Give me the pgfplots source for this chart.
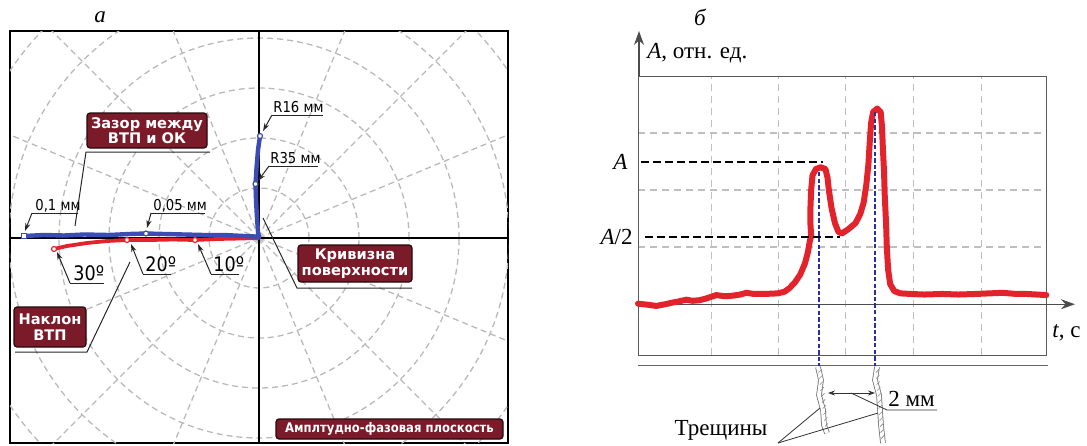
\documentclass[border=0pt]{standalone}
\usepackage{pgfplots}
\pgfplotsset{compat=1.18}
\usepackage{fontspec}
\setmainfont{Liberation Serif}
\newfontfamily\dv{DejaVu Sans}
\newfontfamily\dvc[FakeStretch=0.88]{DejaVu Sans}
\usetikzlibrary{arrows.meta}
\definecolor{maroon}{HTML}{7B1B29}
\definecolor{cred}{HTML}{E3232B}
\definecolor{cblue}{HTML}{3B4CB4}
\definecolor{navy}{HTML}{2A2E9E}
\newcommand\fs{\fontsize{11.5}{13}\selectfont}
\begin{document}
\begin{tikzpicture}
\useasboundingbox (0,0) rectangle (543.5pt,-222.5pt);
\tikzset{gridd/.style={gray!55, line width=0.65pt, dash pattern=on 3pt off 2pt},
  box/.style={fill=maroon, draw=black!70!maroon, line width=0.6pt, rounded corners=1.5pt, text=white, font=\dv\bfseries\fontsize{7.3}{7.7}\selectfont, align=center, inner sep=1pt},
  lbl/.style={font=\dvc\fontsize{7.5}{8}\selectfont, inner sep=0pt, anchor=base west},
  dlbl/.style={font=\dvc\fontsize{10}{11}\selectfont, inner sep=0pt, anchor=base west},
  ldr/.style={black!85, line width=0.5pt},
  arr/.style={black!85, line width=0.5pt, -{Stealth[length=4pt,width=2.6pt]}}}
% ---------------- left panel ----------------
\begin{axis}[at={(5pt,-221.5pt)}, anchor=south west, x=0.5pt, y=0.5pt,
  xmin=-249, xmax=249, ymin=-205, ymax=207, xtick=\empty, ytick=\empty,
  axis line style={black, line width=1pt}]
\pgfplotsinvokeforeach{50,100,150,200,250,300}{\draw[gridd] (axis cs:0,0) circle[radius=#1];}
\pgfplotsinvokeforeach{22.5,45,67.5,112.5,135,157.5,202.5,225,247.5,292.5,315,337.5}{\draw[gridd] (axis cs:0,0) -- (axis cs:{400*cos(#1)},{400*sin(#1)});}
\draw[black, line width=0.8pt] (axis cs:-249,0) -- (axis cs:249,0);
\draw[black, line width=0.8pt] (axis cs:0,-205) -- (axis cs:0,207);
\addplot[cred, line width=1.9pt, line join=round, line cap=round] coordinates {(-205,-11) (-192,-8) (-172,-5) (-152,-3) (-132,-2) (-109,-2) (-86,-1.5) (-64,-2) (-42,-1) (-19,-0.5) (0,0)};
\addplot[cblue, line width=2.2pt, line join=round, line cap=round] coordinates {(-235,2) (-215,3) (-195,2.5) (-175,3.5) (-150,3) (-130,4) (-113,4.5) (-95,4) (-75,3.5) (-55,3) (-35,3) (-15,2) (-4,1.5) (0,1) (-1,6) (-2,20) (-3,38) (-3.5,54) (-2.5,70) (-1,88) (1,102)};
\addplot[only marks, mark=square*, mark size=1.2pt, mark options={fill=white, draw=cblue, line width=0.6pt}] coordinates {(-235,2)};
\addplot[only marks, mark=*, mark size=1.25pt, mark options={fill=white, draw=cblue, line width=0.6pt}] coordinates {(-113,4.5) (-3.5,54) (1,102)};
\addplot[only marks, mark=*, mark size=1.25pt, mark options={fill=white, draw=cred, line width=0.6pt}] coordinates {(-205,-11) (-132,-2) (-64,-2)};
\end{axis}
% ---------------- right panel ----------------
\begin{axis}[at={(319pt,-177.5pt)}, anchor=south west, width=204.5pt, height=139.5pt, scale only axis,
  xmin=0, xmax=6, ymin=-0.89, ymax=4.0,
  xtick={1.076,2.064,3.042,4.044,5.037}, ytick={1,2,3}, xticklabels={}, yticklabels={},
  tick style={draw=none}, xmajorgrids, ymajorgrids,
  grid style={gray!50, line width=0.8pt, dash pattern=on 3.5pt off 2.5pt},
  axis line style={black!65, line width=0.5pt}, clip=false]
\draw[black!70, line width=0.6pt, -{Stealth[length=7pt,width=5pt]}] (axis cs:0,0) -- (axis cs:6.41,0);
\addplot[cred, line width=3pt, line join=round, line cap=round] coordinates {
(0,0.01) (0.15,-0.01) (0.27,-0.03) (0.4,0.0) (0.51,0.03) (0.6,0.05) (0.71,0.08) (0.8,0.06) (0.9,0.07) (1.0,0.1) (1.15,0.16) (1.27,0.14) (1.39,0.15) (1.5,0.17) (1.59,0.2) (1.7,0.18) (1.85,0.18) (2.05,0.19) (2.15,0.22) (2.22,0.28) (2.3,0.38) (2.38,0.52) (2.45,0.72) (2.49,0.9) (2.52,1.1) (2.54,1.2) (2.53,1.4) (2.53,1.7) (2.54,2.0) (2.56,2.26) (2.61,2.37) (2.68,2.40) (2.75,2.37) (2.78,2.22) (2.8,2.0) (2.84,1.68) (2.89,1.42) (2.94,1.27) (2.99,1.24) (3.08,1.31) (3.19,1.42) (3.26,1.58) (3.31,1.78) (3.35,2.1) (3.38,2.45) (3.4,2.85) (3.42,3.18) (3.45,3.37) (3.51,3.43) (3.56,3.37) (3.58,3.1) (3.59,2.8) (3.61,2.3) (3.62,1.9) (3.64,1.4) (3.65,1.0) (3.67,0.6) (3.7,0.35) (3.76,0.23) (3.85,0.19) (4.0,0.18) (4.2,0.17) (4.47,0.18) (4.7,0.17) (4.96,0.18) (5.15,0.19) (5.35,0.2) (5.55,0.18) (5.7,0.18) (5.85,0.17) (5.99,0.16)};
\end{axis}
% ---------------- annotations (pixel coordinates) ----------------
\begin{scope}[x=0.5pt, y=-0.5pt]
% left panel labels
\node[font=\fs\itshape] at (100,17) {а};
\node[box, minimum width=60pt, minimum height=17.5pt] at (147,130.5) {Зазор между\\ВТП и ОК};
\draw[ldr] (75,226) -- (86,152) -- (210,152);
\node[box, minimum width=57pt, minimum height=18.5pt] at (355,263.5) {Кривизна\\поверхности};
\draw[ldr] (263,218) -- (297,288) -- (412,288);
\node[box, minimum width=36pt, minimum height=20pt] at (50,327) {Наклон\\ВТП};
\draw[ldr] (130,262) -- (87,352) -- (15,352);
\node[box, minimum width=113.5pt, minimum height=10pt, font=\dvc\bfseries\fontsize{6.6}{7}\selectfont] at (389.5,429) {Амплтудно-фазовая плоскость};
\node[lbl] at (35,210) {0,1 мм}; \draw[ldr] (32,213) -- (78,213); \draw[arr] (32,213) -- (25,231);
\node[lbl] at (153,210) {0,05 мм}; \draw[ldr] (151,213) -- (205,213); \draw[arr] (151,213) -- (147,228);
\node[lbl] at (273,112) {R16 мм}; \draw[ldr] (272,115) -- (323,115); \draw[arr] (272,115) -- (263,131);
\node[lbl] at (270,163) {R35 мм}; \draw[ldr] (269,166) -- (318,166); \draw[arr] (269,166) -- (258,181);
\node[dlbl] at (213,271) {10º}; \draw[ldr] (211,274) -- (239,274); \draw[arr] (211,274) -- (198,244);
\node[dlbl] at (145,271) {20º}; \draw[ldr] (143,274) -- (171,274); \draw[arr] (143,274) -- (131,244);
\node[dlbl] at (73,280) {30º}; \draw[ldr] (70,283) -- (104,283); \draw[arr] (70,283) -- (57,252);
% right panel labels
\node[font=\fs\itshape] at (700,17) {б};
\draw[black!70, line width=0.6pt, -{Stealth[length=7pt,width=5pt]}] (639,76) -- (639,31);
\node[anchor=west, inner sep=0pt, font=\fs] at (647,53) {\textit{A}, отн. ед.};
\node[anchor=east, inner sep=0pt, font=\fs] at (628,162) {\textit{A}};
\node[anchor=east, inner sep=0pt, font=\fs] at (633,237) {\textit{A}/2};
\node[anchor=west, inner sep=0pt, font=\fs] at (1052,333) {\textit{t}, с};
\draw[black!60, line width=0.5pt] (638,365) -- (1048,365);
\draw[black, line width=1.1pt, dash pattern=on 4pt off 2pt] (641,162) -- (823,162);
\draw[black, line width=1.1pt, dash pattern=on 4pt off 2pt] (645,237) -- (840,237);
\draw[navy, line width=1.2pt, dash pattern=on 2.2pt off 1.1pt] (819,172) -- (819,366);
\draw[navy, line width=1.2pt, dash pattern=on 2.2pt off 1.1pt] (875,112) -- (875,366);
% cracks
\draw[black!55, line width=0.4pt, double=white, double distance=2pt] (818,367) -- (821,380) -- (819,395) -- (823,410) -- (824,425) -- (827,433);
\draw[black!55, line width=0.4pt, double=white, double distance=2pt] (877,367) -- (875,380) -- (879,395) -- (880,410) -- (881,425) -- (883,443);
\foreach \yy in {371,377,...,429} {\draw[black!45, line width=0.3pt] ({819.5+(\yy-367)*0.12-1.6},{\yy+1.6}) -- ++(3.2,-3.2);}
\foreach \yy in {371,377,...,439} {\draw[black!45, line width=0.3pt] ({877+(\yy-367)*0.08-1.6},{\yy+1.6}) -- ++(3.2,-3.2);}
\draw[black!80, line width=0.4pt, {Stealth[length=3.5pt,width=2.5pt]}-{Stealth[length=3.5pt,width=2.5pt]}] (828,393) -- (875,393);
\draw[black!80, line width=0.4pt] (851,393) -- (887,410) -- (937,410);
\node[anchor=base west, inner sep=0pt, font=\fs] at (888,406) {2 мм};
\node[font=\fs, inner sep=0pt] at (721,430) {Трещины};
\draw[black!80, line width=0.4pt] (778,443) -- (820,408);
\draw[black!80, line width=0.4pt] (778,443) -- (878,413);
\end{scope}
\end{tikzpicture}
\end{document}
